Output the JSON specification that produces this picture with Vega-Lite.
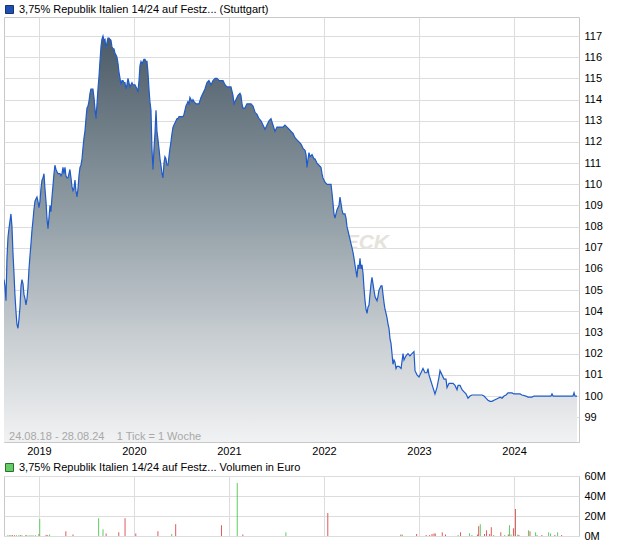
{
  "$schema": "https://vega.github.io/schema/vega-lite/v6.json",
  "padding": {"left": 3, "top": 3, "right": 0, "bottom": 0},
  "background": "white",
  "spacing": 4,
  "resolve": {"scale": {"fill": "independent", "color": "independent"}, "legend": {"fill": "independent", "color": "independent"}},
  "config": {
    "font": "Liberation Sans",
    "view": {"stroke": "#c8c8c8", "strokeWidth": 1},
    "axis": {"gridColor": "#dddddd", "gridWidth": 1, "labelFont": "Liberation Sans", "labelFontSize": 11, "labelColor": "#000000", "ticks": false, "domain": false, "labelOverlap": false},
    "legend": {"labelFont": "Liberation Sans", "labelFontSize": 11, "labelColor": "#000000", "padding": 0, "labelLimit": 500}
  },
  "datasets": {
    "price": [
      {"t":2018.632,"p":105.5},{"t":2018.642,"p":105.2},{"t":2018.653,"p":104.5},{"t":2018.663,"p":106.5},{"t":2018.674,"p":107.5},{"t":2018.684,"p":107.9},{"t":2018.705,"p":108.6},{"t":2018.716,"p":108.0},{"t":2018.726,"p":106.8},{"t":2018.737,"p":105.8},{"t":2018.747,"p":104.8},{"t":2018.758,"p":104.0},{"t":2018.768,"p":103.4},{"t":2018.779,"p":103.2},{"t":2018.789,"p":103.6},{"t":2018.800,"p":104.2},{"t":2018.811,"p":105.2},{"t":2018.821,"p":105.5},{"t":2018.832,"p":105.3},{"t":2018.842,"p":104.8},{"t":2018.853,"p":104.6},{"t":2018.863,"p":104.3},{"t":2018.874,"p":104.6},{"t":2018.884,"p":105.1},{"t":2018.895,"p":106.0},{"t":2018.905,"p":106.6},{"t":2018.916,"p":107.2},{"t":2018.926,"p":107.8},{"t":2018.937,"p":108.3},{"t":2018.947,"p":108.8},{"t":2018.958,"p":109.2},{"t":2018.968,"p":109.3},{"t":2018.979,"p":109.4},{"t":2018.989,"p":109.2},{"t":2019.000,"p":108.9},{"t":2019.011,"p":109.2},{"t":2019.021,"p":109.8},{"t":2019.032,"p":110.2},{"t":2019.042,"p":110.3},{"t":2019.053,"p":110.5},{"t":2019.063,"p":109.8},{"t":2019.074,"p":109.2},{"t":2019.084,"p":108.4},{"t":2019.095,"p":107.9},{"t":2019.105,"p":108.4},{"t":2019.116,"p":109.0},{"t":2019.126,"p":108.7},{"t":2019.137,"p":109.4},{"t":2019.147,"p":109.9},{"t":2019.158,"p":110.5},{"t":2019.168,"p":110.9},{"t":2019.179,"p":110.7},{"t":2019.189,"p":110.6},{"t":2019.200,"p":110.5},{"t":2019.211,"p":110.5},{"t":2019.221,"p":110.5},{"t":2019.232,"p":110.4},{"t":2019.242,"p":110.5},{"t":2019.253,"p":110.8},{"t":2019.263,"p":110.5},{"t":2019.274,"p":110.8},{"t":2019.284,"p":110.4},{"t":2019.295,"p":110.3},{"t":2019.305,"p":110.3},{"t":2019.316,"p":110.5},{"t":2019.326,"p":110.7},{"t":2019.337,"p":110.3},{"t":2019.347,"p":109.9},{"t":2019.358,"p":109.7},{"t":2019.368,"p":109.8},{"t":2019.379,"p":110.2},{"t":2019.389,"p":109.7},{"t":2019.400,"p":109.4},{"t":2019.411,"p":109.8},{"t":2019.421,"p":110.4},{"t":2019.432,"p":110.8},{"t":2019.442,"p":110.9},{"t":2019.453,"p":111.2},{"t":2019.463,"p":111.7},{"t":2019.474,"p":112.2},{"t":2019.484,"p":112.5},{"t":2019.495,"p":113.1},{"t":2019.505,"p":113.6},{"t":2019.516,"p":113.7},{"t":2019.526,"p":113.9},{"t":2019.537,"p":114.3},{"t":2019.547,"p":114.5},{"t":2019.558,"p":114.5},{"t":2019.568,"p":114.5},{"t":2019.579,"p":114.1},{"t":2019.589,"p":113.6},{"t":2019.600,"p":113.1},{"t":2019.611,"p":113.8},{"t":2019.621,"p":114.5},{"t":2019.632,"p":115.1},{"t":2019.642,"p":115.8},{"t":2019.653,"p":116.5},{"t":2019.663,"p":116.85},{"t":2019.674,"p":117.0},{"t":2019.684,"p":116.8},{"t":2019.695,"p":116.85},{"t":2019.705,"p":116.4},{"t":2019.716,"p":116.7},{"t":2019.726,"p":116.9},{"t":2019.737,"p":116.9},{"t":2019.747,"p":116.85},{"t":2019.758,"p":116.8},{"t":2019.768,"p":116.5},{"t":2019.779,"p":116.4},{"t":2019.789,"p":116.4},{"t":2019.800,"p":116.2},{"t":2019.811,"p":116.1},{"t":2019.821,"p":116.0},{"t":2019.832,"p":115.7},{"t":2019.842,"p":115.3},{"t":2019.853,"p":115.0},{"t":2019.863,"p":114.7},{"t":2019.874,"p":114.9},{"t":2019.884,"p":114.9},{"t":2019.895,"p":114.8},{"t":2019.905,"p":114.8},{"t":2019.916,"p":114.5},{"t":2019.926,"p":114.7},{"t":2019.937,"p":115.0},{"t":2019.947,"p":114.8},{"t":2019.958,"p":114.6},{"t":2019.968,"p":114.7},{"t":2019.979,"p":114.8},{"t":2019.989,"p":114.7},{"t":2020.000,"p":114.7},{"t":2020.011,"p":114.7},{"t":2020.021,"p":114.6},{"t":2020.032,"p":114.5},{"t":2020.042,"p":114.4},{"t":2020.053,"p":114.9},{"t":2020.063,"p":115.6},{"t":2020.074,"p":115.8},{"t":2020.084,"p":115.7},{"t":2020.095,"p":115.8},{"t":2020.105,"p":115.9},{"t":2020.116,"p":115.9},{"t":2020.126,"p":115.8},{"t":2020.137,"p":115.8},{"t":2020.147,"p":115.3},{"t":2020.158,"p":114.5},{"t":2020.168,"p":113.9},{"t":2020.179,"p":113.5},{"t":2020.189,"p":111.7},{"t":2020.200,"p":110.7},{"t":2020.211,"p":111.7},{"t":2020.221,"p":112.4},{"t":2020.232,"p":113.5},{"t":2020.242,"p":112.5},{"t":2020.253,"p":112.1},{"t":2020.263,"p":111.7},{"t":2020.274,"p":111.2},{"t":2020.284,"p":110.9},{"t":2020.295,"p":110.5},{"t":2020.305,"p":110.3},{"t":2020.316,"p":111.0},{"t":2020.326,"p":111.3},{"t":2020.337,"p":111.2},{"t":2020.347,"p":110.9},{"t":2020.358,"p":110.9},{"t":2020.368,"p":111.3},{"t":2020.379,"p":111.7},{"t":2020.389,"p":112.0},{"t":2020.400,"p":112.4},{"t":2020.411,"p":112.7},{"t":2020.421,"p":112.8},{"t":2020.432,"p":112.9},{"t":2020.442,"p":113.0},{"t":2020.453,"p":113.1},{"t":2020.463,"p":113.1},{"t":2020.474,"p":113.2},{"t":2020.495,"p":113.2},{"t":2020.516,"p":113.2},{"t":2020.526,"p":113.3},{"t":2020.537,"p":113.5},{"t":2020.547,"p":113.7},{"t":2020.558,"p":113.8},{"t":2020.568,"p":113.9},{"t":2020.579,"p":113.8},{"t":2020.589,"p":114.1},{"t":2020.600,"p":114.0},{"t":2020.611,"p":113.9},{"t":2020.621,"p":114.0},{"t":2020.632,"p":113.9},{"t":2020.653,"p":113.8},{"t":2020.684,"p":113.8},{"t":2020.705,"p":114.1},{"t":2020.726,"p":114.3},{"t":2020.747,"p":114.5},{"t":2020.768,"p":114.8},{"t":2020.789,"p":114.9},{"t":2020.811,"p":114.7},{"t":2020.832,"p":114.9},{"t":2020.853,"p":115.0},{"t":2020.874,"p":115.0},{"t":2020.895,"p":114.9},{"t":2020.916,"p":114.9},{"t":2020.937,"p":114.9},{"t":2020.958,"p":114.7},{"t":2020.979,"p":114.6},{"t":2021.000,"p":114.6},{"t":2021.021,"p":114.6},{"t":2021.042,"p":114.2},{"t":2021.053,"p":113.8},{"t":2021.074,"p":114.0},{"t":2021.095,"p":114.2},{"t":2021.116,"p":114.3},{"t":2021.126,"p":114.2},{"t":2021.137,"p":113.8},{"t":2021.147,"p":113.6},{"t":2021.168,"p":113.6},{"t":2021.189,"p":113.8},{"t":2021.211,"p":113.8},{"t":2021.232,"p":113.8},{"t":2021.253,"p":113.7},{"t":2021.274,"p":113.4},{"t":2021.295,"p":113.3},{"t":2021.316,"p":113.1},{"t":2021.337,"p":113.0},{"t":2021.358,"p":112.8},{"t":2021.379,"p":112.6},{"t":2021.400,"p":112.8},{"t":2021.421,"p":113.0},{"t":2021.442,"p":113.1},{"t":2021.463,"p":112.8},{"t":2021.484,"p":112.5},{"t":2021.505,"p":112.7},{"t":2021.526,"p":112.7},{"t":2021.547,"p":112.7},{"t":2021.568,"p":112.7},{"t":2021.589,"p":112.8},{"t":2021.611,"p":112.7},{"t":2021.632,"p":112.6},{"t":2021.653,"p":112.5},{"t":2021.674,"p":112.4},{"t":2021.695,"p":112.2},{"t":2021.716,"p":112.1},{"t":2021.737,"p":112.0},{"t":2021.758,"p":111.9},{"t":2021.779,"p":111.7},{"t":2021.800,"p":111.6},{"t":2021.811,"p":111.4},{"t":2021.821,"p":110.8},{"t":2021.832,"p":111.2},{"t":2021.842,"p":111.5},{"t":2021.853,"p":111.3},{"t":2021.874,"p":111.4},{"t":2021.895,"p":111.2},{"t":2021.905,"p":111.2},{"t":2021.916,"p":111.1},{"t":2021.926,"p":111.0},{"t":2021.947,"p":110.9},{"t":2021.968,"p":110.8},{"t":2021.979,"p":110.5},{"t":2021.989,"p":110.3},{"t":2022.011,"p":110.1},{"t":2022.032,"p":110.0},{"t":2022.053,"p":110.0},{"t":2022.074,"p":110.0},{"t":2022.084,"p":109.6},{"t":2022.095,"p":109.1},{"t":2022.105,"p":108.6},{"t":2022.116,"p":108.4},{"t":2022.126,"p":108.6},{"t":2022.137,"p":108.8},{"t":2022.158,"p":109.0},{"t":2022.168,"p":109.4},{"t":2022.179,"p":109.1},{"t":2022.189,"p":108.8},{"t":2022.200,"p":108.6},{"t":2022.221,"p":108.6},{"t":2022.232,"p":108.4},{"t":2022.242,"p":108.0},{"t":2022.253,"p":107.8},{"t":2022.263,"p":107.6},{"t":2022.274,"p":107.4},{"t":2022.284,"p":107.2},{"t":2022.295,"p":107.0},{"t":2022.305,"p":106.8},{"t":2022.316,"p":106.5},{"t":2022.326,"p":106.2},{"t":2022.337,"p":105.9},{"t":2022.347,"p":105.6},{"t":2022.358,"p":106.2},{"t":2022.368,"p":106.0},{"t":2022.379,"p":106.5},{"t":2022.389,"p":106.0},{"t":2022.400,"p":106.2},{"t":2022.411,"p":105.8},{"t":2022.421,"p":105.1},{"t":2022.432,"p":104.5},{"t":2022.442,"p":104.1},{"t":2022.453,"p":103.9},{"t":2022.463,"p":104.2},{"t":2022.474,"p":104.3},{"t":2022.484,"p":104.8},{"t":2022.495,"p":105.3},{"t":2022.505,"p":105.6},{"t":2022.516,"p":105.3},{"t":2022.526,"p":105.0},{"t":2022.537,"p":104.7},{"t":2022.547,"p":104.6},{"t":2022.558,"p":104.5},{"t":2022.568,"p":104.7},{"t":2022.579,"p":105.0},{"t":2022.589,"p":105.1},{"t":2022.600,"p":105.2},{"t":2022.611,"p":105.2},{"t":2022.621,"p":104.8},{"t":2022.632,"p":104.4},{"t":2022.642,"p":104.1},{"t":2022.653,"p":103.9},{"t":2022.663,"p":103.7},{"t":2022.674,"p":103.4},{"t":2022.684,"p":103.2},{"t":2022.695,"p":102.7},{"t":2022.705,"p":102.5},{"t":2022.716,"p":102.0},{"t":2022.726,"p":101.5},{"t":2022.737,"p":101.7},{"t":2022.747,"p":101.6},{"t":2022.758,"p":101.3},{"t":2022.768,"p":101.4},{"t":2022.789,"p":101.4},{"t":2022.811,"p":101.3},{"t":2022.832,"p":102.0},{"t":2022.842,"p":101.7},{"t":2022.863,"p":101.9},{"t":2022.884,"p":102.0},{"t":2022.905,"p":101.9},{"t":2022.926,"p":102.0},{"t":2022.947,"p":102.1},{"t":2022.958,"p":101.2},{"t":2022.979,"p":101.0},{"t":2023.000,"p":100.9},{"t":2023.021,"p":101.1},{"t":2023.042,"p":101.3},{"t":2023.063,"p":101.1},{"t":2023.084,"p":101.1},{"t":2023.095,"p":101.3},{"t":2023.105,"p":101.0},{"t":2023.126,"p":100.7},{"t":2023.147,"p":100.4},{"t":2023.168,"p":100.1},{"t":2023.189,"p":100.4},{"t":2023.211,"p":100.9},{"t":2023.221,"p":101.2},{"t":2023.242,"p":101.0},{"t":2023.263,"p":100.8},{"t":2023.284,"p":100.8},{"t":2023.295,"p":100.4},{"t":2023.316,"p":100.6},{"t":2023.337,"p":100.6},{"t":2023.358,"p":100.6},{"t":2023.379,"p":100.5},{"t":2023.400,"p":100.3},{"t":2023.411,"p":100.5},{"t":2023.432,"p":100.5},{"t":2023.453,"p":100.3},{"t":2023.474,"p":100.2},{"t":2023.495,"p":100.1},{"t":2023.516,"p":99.9},{"t":2023.537,"p":100.0},{"t":2023.558,"p":100.05},{"t":2023.663,"p":100.05},{"t":2023.684,"p":100.0},{"t":2023.705,"p":99.9},{"t":2023.726,"p":99.8},{"t":2023.747,"p":99.75},{"t":2023.768,"p":99.75},{"t":2023.789,"p":99.8},{"t":2023.811,"p":99.85},{"t":2023.832,"p":99.9},{"t":2023.853,"p":99.95},{"t":2023.874,"p":99.9},{"t":2023.895,"p":100.0},{"t":2023.916,"p":100.05},{"t":2023.937,"p":100.15},{"t":2023.979,"p":100.15},{"t":2024.000,"p":100.1},{"t":2024.063,"p":100.1},{"t":2024.084,"p":100.05},{"t":2024.126,"p":100.0},{"t":2024.147,"p":99.95},{"t":2024.189,"p":99.95},{"t":2024.211,"p":100.0},{"t":2024.389,"p":100.0},{"t":2024.400,"p":100.1},{"t":2024.411,"p":100.0},{"t":2024.621,"p":100.0},{"t":2024.632,"p":100.15},{"t":2024.642,"p":100.0},{"t":2024.663,"p":100.0}
    ],
    "volume": [
      {"t":2018.672,"v":0.8,"d":"g"},{"t":2018.688,"v":0.8,"d":"g"},{"t":2018.705,"v":0.8,"d":"r"},{"t":2018.721,"v":0.8,"d":"r"},{"t":2018.742,"v":0.8,"d":"r"},{"t":2018.763,"v":0.8,"d":"g"},{"t":2018.788,"v":0.8,"d":"g"},{"t":2018.805,"v":0.8,"d":"r"},{"t":2018.821,"v":0.8,"d":"g"},{"t":2018.859,"v":0.8,"d":"g"},{"t":2018.871,"v":0.8,"d":"r"},{"t":2018.896,"v":0.8,"d":"g"},{"t":2018.917,"v":0.8,"d":"g"},{"t":2018.938,"v":0.8,"d":"g"},{"t":2018.963,"v":0.8,"d":"g"},
      {"t":2019.000,"v":2.0,"d":"r"},{"t":2019.008,"v":17.0,"d":"g"},{"t":2019.075,"v":1.2,"d":"r"},{"t":2019.091,"v":0.8,"d":"r"},{"t":2019.112,"v":1.5,"d":"g"},{"t":2019.283,"v":4.7,"d":"r"},{"t":2019.358,"v":1.5,"d":"r"},{"t":2019.628,"v":17.8,"d":"g"},{"t":2019.674,"v":6.7,"d":"g"},{"t":2019.707,"v":2.5,"d":"r"},{"t":2019.840,"v":3.7,"d":"r"},{"t":2019.906,"v":17.8,"d":"r"},
      {"t":2020.019,"v":2.5,"d":"r"},{"t":2020.252,"v":4.7,"d":"r"},{"t":2020.397,"v":2.0,"d":"g"},{"t":2020.439,"v":11.8,"d":"r"},{"t":2020.921,"v":10.8,"d":"r"},
      {"t":2021.087,"v":53.0,"d":"g"},{"t":2021.146,"v":1.5,"d":"r"},{"t":2021.599,"v":3.7,"d":"g"},
      {"t":2022.040,"v":23.0,"d":"r"},{"t":2022.809,"v":1.5,"d":"r"},{"t":2022.825,"v":1.3,"d":"g"},{"t":2022.975,"v":2.0,"d":"r"},
      {"t":2023.075,"v":1.0,"d":"r"},{"t":2023.112,"v":1.0,"d":"r"},{"t":2023.137,"v":2.0,"d":"r"},{"t":2023.158,"v":2.5,"d":"r"},{"t":2023.171,"v":2.5,"d":"r"},{"t":2023.245,"v":3.7,"d":"r"},{"t":2023.279,"v":1.5,"d":"r"},{"t":2023.412,"v":1.0,"d":"g"},{"t":2023.437,"v":3.7,"d":"r"},{"t":2023.532,"v":2.7,"d":"g"},{"t":2023.557,"v":1.0,"d":"g"},{"t":2023.615,"v":1.5,"d":"r"},{"t":2023.628,"v":9.8,"d":"r"},{"t":2023.645,"v":11.8,"d":"g"},{"t":2023.690,"v":2.0,"d":"r"},{"t":2023.711,"v":5.7,"d":"r"},{"t":2023.744,"v":2.0,"d":"r"},{"t":2023.761,"v":8.8,"d":"r"},{"t":2023.786,"v":1.0,"d":"g"},{"t":2023.861,"v":3.7,"d":"r"},{"t":2023.902,"v":1.0,"d":"g"},{"t":2023.940,"v":1.5,"d":"r"},{"t":2023.952,"v":10.8,"d":"g"},{"t":2023.969,"v":1.5,"d":"g"},{"t":2023.994,"v":7.7,"d":"r"},
      {"t":2024.015,"v":27.0,"d":"r"},{"t":2024.040,"v":1.5,"d":"g"},{"t":2024.052,"v":1.0,"d":"r"},{"t":2024.152,"v":5.7,"d":"g"},{"t":2024.168,"v":4.7,"d":"r"},{"t":2024.227,"v":3.7,"d":"g"},{"t":2024.243,"v":1.0,"d":"g"},{"t":2024.293,"v":1.0,"d":"r"},{"t":2024.364,"v":3.7,"d":"g"},{"t":2024.385,"v":2.5,"d":"g"},{"t":2024.430,"v":1.0,"d":"r"},{"t":2024.459,"v":3.7,"d":"g"},{"t":2024.501,"v":1.0,"d":"r"}
    ]
  },
  "vconcat": [
    {
      "width": 575,
      "height": 425,
      "encoding": {
        "x": {"field": "t", "type": "quantitative", "scale": {"domain": [2018.632, 2024.684], "nice": false, "zero": false},
          "axis": {"values": [2019, 2020, 2021, 2022, 2023, 2024], "format": "d", "labelPadding": 3, "grid": true, "labelOverlap": false, "title": null}},
        "y": {"field": "p", "type": "quantitative", "scale": {"domain": [97.83, 117.9], "nice": false, "zero": false},
          "axis": {"orient": "right", "values": [99,100,101,102,103,104,105,106,107,108,109,110,111,112,113,114,115,116,117], "labelPadding": 5, "grid": true, "labelOverlap": false, "title": null}}
      },
      "layer": [
        {
          "data": {"values": [{"t": 2022.684, "p": 106.94, "s": "CHECK"}]},
          "mark": {"type": "text", "align": "right", "baseline": "alphabetic", "fontSize": 21, "fontWeight": "bold", "fontStyle": "italic", "color": "#e6e2dc"},
          "encoding": {"text": {"field": "s"}}
        },
        {
          "data": {"name": "price"},
          "mark": {"type": "area", "clip": true, "fill": {"gradient": "linear", "x1": 0, "y1": 0, "x2": 0, "y2": 1, "stops": [{"offset": 0, "color": "#4b5b67"}, {"offset": 0.48, "color": "#98a4ab"}, {"offset": 0.73, "color": "#c6ccd0"}, {"offset": 1, "color": "#f1f2f3"}]}},
          "encoding": {"y2": {"datum": 97.83}}
        },
        {
          "data": {"name": "price"},
          "mark": {"type": "line", "clip": true, "color": "#1f5bc8", "strokeWidth": 1.2},
          "encoding": {}
        },
        {
          "data": {"values": [{"t": 2018.685, "p": 97.93, "s": "24.08.18 - 28.08.24 \u00a0\u00a0\u00a01 Tick = 1 Woche"}]},
          "mark": {"type": "text", "align": "left", "baseline": "alphabetic", "fontSize": 11, "color": "#a8a8a8"},
          "encoding": {"text": {"field": "s"}}
        },
        {
          "data": {"values": []},
          "mark": {"type": "square"},
          "encoding": {
            "fill": {"datum": "3,75% Republik Italien 14/24 auf Festz... (Stuttgart)", "type": "nominal", "scale": {"range": ["#1f4fb5"]},
              "legend": {"title": null, "orient": "none", "legendX": 0, "legendY": -13, "symbolType": "square", "symbolSize": 64, "symbolStrokeColor": "#16336e", "symbolStrokeWidth": 1, "symbolOpacity": 1, "labelOffset": 4, "labelLimit": 500}}
          }
        }
      ]
    },
    {
      "width": 575,
      "height": 60,
      "encoding": {
        "x": {"field": "t", "type": "quantitative", "scale": {"domain": [2018.632, 2024.684], "nice": false, "zero": false},
          "axis": {"values": [2019, 2020, 2021, 2022, 2023, 2024], "labels": false, "grid": true, "title": null}},
        "y": {"field": "v", "type": "quantitative", "scale": {"domain": [0, 60], "nice": false},
          "axis": {"orient": "right", "values": [0, 20, 40, 60], "labelExpr": "datum.value + 'M'", "labelPadding": 5, "grid": true, "labelOverlap": false, "title": null}}
      },
      "layer": [
        {
          "data": {"name": "volume"},
          "mark": {"type": "rule", "strokeWidth": 1},
          "encoding": {
            "y2": {"datum": 0},
            "color": {"field": "d", "type": "nominal", "scale": {"domain": ["g", "r"], "range": ["#5fcc5f", "#de5b5b"]}, "legend": null}
          }
        },
        {
          "data": {"values": []},
          "mark": {"type": "square"},
          "encoding": {
            "fill": {"datum": "3,75% Republik Italien 14/24 auf Festz... Volumen in Euro", "type": "nominal", "scale": {"range": ["#66cc66"]},
              "legend": {"title": null, "orient": "none", "legendX": 0, "legendY": -14, "symbolType": "square", "symbolSize": 64, "symbolStrokeColor": "#2c6e2c", "symbolStrokeWidth": 1, "symbolOpacity": 1, "labelOffset": 4, "labelLimit": 500}}
          }
        }
      ]
    }
  ]
}
